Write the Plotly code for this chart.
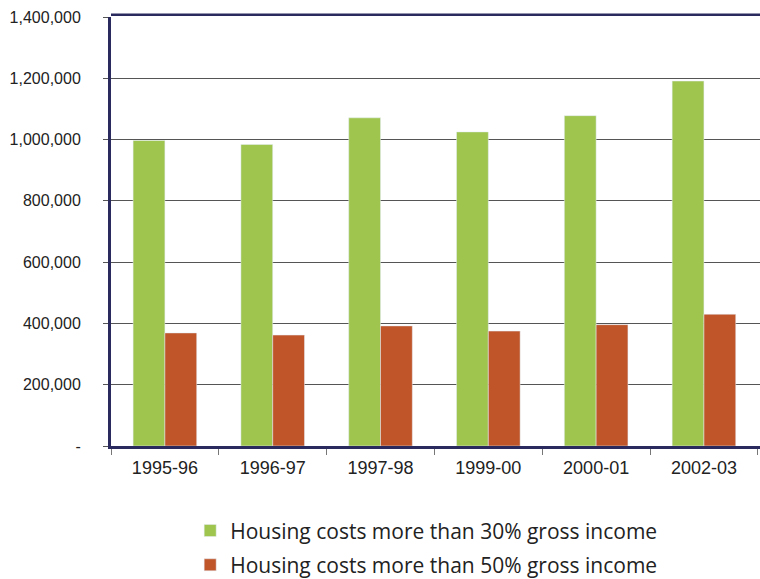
import plotly.graph_objects as go

categories = ["1995-96", "1996-97", "1997-98", "1999-00", "2000-01", "2002-03"]
over30 = [997000, 984000, 1071000, 1025000, 1078000, 1191000]
over50 = [369000, 362000, 392000, 375000, 396000, 430000]
series_names = ["Housing costs more than 30% gross income",
                "Housing costs more than 50% gross income"]
ytick_vals = [0, 200000, 400000, 600000, 800000, 1000000, 1200000, 1400000]
ytick_text = ["-", "200,000", "400,000", "600,000", "800,000", "1,000,000", "1,200,000", "1,400,000"]

navy = "#2b2a5e"
fig = go.Figure()
fig.add_trace(go.Bar(x=categories, y=over30, name=series_names[0], marker_color="#9fc54f",
                     legendgroup="a"))
fig.add_trace(go.Bar(x=categories, y=over50, name=series_names[1], marker_color="#bf5529",
                     legendgroup="b"))

fig.update_layout(
    width=760, height=579,
    margin=dict(l=111, r=0, t=17, b=133, autoexpand=False),
    paper_bgcolor="white", plot_bgcolor="white",
    barmode="group", bargap=0.41, bargroupgap=0,
    font=dict(family="Liberation Sans, Arial", size=16, color="#222"),
    showlegend=True,
    legend=dict(x=0.122, xanchor="left", y=-0.15, yanchor="top",
                font=dict(family="Open Sans", size=21, color="#222"),
                itemwidth=30, tracegroupgap=4, itemclick=False),
    shapes=[dict(type="line", xref="paper", yref="paper", x0=0, x1=1.01, y0=1.005, y1=1.005,
                 line=dict(color=navy, width=2.5))],
)
fig.update_xaxes(type="category", range=[-0.5, 5.52], showline=True, linecolor=navy, linewidth=2.5,
                 ticks="outside", tickson="boundaries", ticklen=6, tickcolor="#777",
                 tickfont=dict(size=18), ticklabelstandoff=4, showgrid=False)
fig.update_yaxes(range=[0, 1400000], tickvals=ytick_vals, ticktext=ytick_text,
                 showline=True, linecolor=navy, linewidth=3,
                 showgrid=True, gridcolor="#555", gridwidth=1, zeroline=False,
                 ticks="outside", ticklen=5, tickcolor="#555", ticklabelstandoff=19)

fig.write_html("out.html")
